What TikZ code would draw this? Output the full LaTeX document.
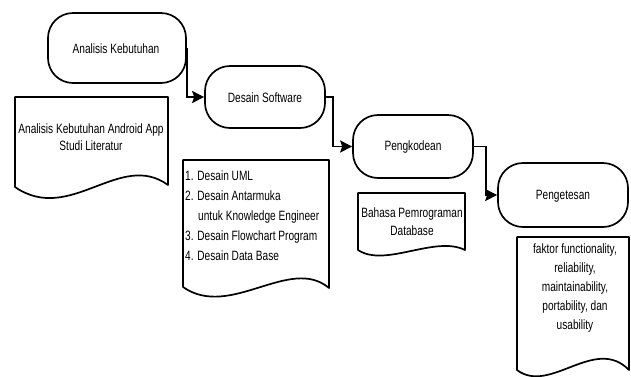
\documentclass[tikz,border=0pt]{standalone}
\usepackage{fontspec}
\setmainfont{Liberation Sans}[FakeStretch=0.75]
\usetikzlibrary{arrows.meta}
\begin{document}
\begin{tikzpicture}[x=1pt,y=-1pt,
  term/.style={draw, line width=1.7pt, rounded corners=25pt, inner sep=0pt},
  docshape/.style={draw, line width=1.7pt, line join=round},
  conn/.style={line width=1.7pt, -{Stealth[length=12pt,width=12pt,inset=2pt]}},
  lbl/.style={inner sep=0pt, font=\fontsize{13.5}{17}\selectfont}]
\useasboundingbox (0,0) rectangle (631,376);
\fill[white] (0,0) rectangle (631,376);
% terminators
\node[term, minimum width=138pt, minimum height=70pt] (t1) at (117,48) {};
\node[lbl] (t1l) at (116,49) {Analisis Kebutuhan};
\node[term, minimum width=120pt, minimum height=62pt] (t2) at (265,97) {};
\node[lbl] (t2l) at (265,98) {Desain Software};
\node[term, minimum width=120pt, minimum height=63pt] (t3) at (413,146.5) {};
\node[lbl] (t3l) at (413,147) {Pengkodean};
\node[term, minimum width=130pt, minimum height=64pt] (t4) at (563,195) {};
\node[lbl] (t4l) at (563,196) {Pengetesan};
% documents
\draw[docshape] (15,187) -- (15,97) -- (168,97) -- (168,185)
  .. controls (120,150) and (70,225) .. cycle;
\draw[docshape] (183,287) -- (183,160) -- (329,160) -- (329,288)
  .. controls (290,255) and (230,320) .. cycle;
\draw[docshape] (358,250) -- (358,193) -- (465,193) -- (465,250)
  .. controls (435,235) and (385,268) .. cycle;
\draw[docshape] (517,370) -- (517,237) -- (629,237) -- (629,370)
  .. controls (595,335) and (550,395) .. cycle;
% document texts
\node[lbl, align=center, font=\fontsize{13.5}{17}\selectfont] (d1) at (91,137)
  {Analisis Kebutuhan Android App\\Studi Literatur};
\node[lbl, align=left, anchor=west, font=\fontsize{13.5}{20}\selectfont] (d2) at (185,216)
  {1. Desain UML\\2. Desain Antarmuka\\\hspace*{13pt}untuk Knowledge Engineer\\3. Desain Flowchart Program\\4. Desain Data Base};
\node[lbl, align=center, font=\fontsize{13.5}{18}\selectfont] (d3) at (412,222)
  {Bahasa Pemrograman\\Database};
\node[lbl, align=center, font=\fontsize{13.5}{19}\selectfont] (d4) at (575,288)
  {faktor functionality,\\reliability,\\maintainability,\\portability, dan\\usability};
% connectors
\draw[conn] (t1.east) |- (t2.west);
\draw[conn] (t2.east) -- ++(7,0) |- (t3.west);
\draw[conn] (t3.east) -- ++(12,0) |- (t4.west);
\end{tikzpicture}
\end{document}
